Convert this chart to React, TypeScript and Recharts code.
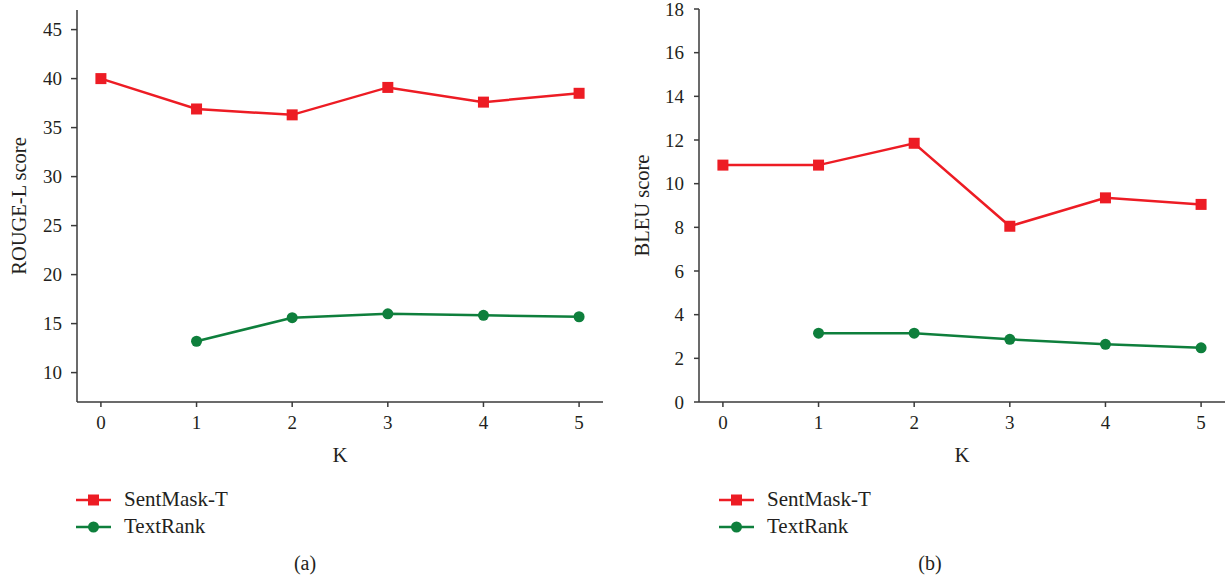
import React from 'react';
import { LineChart, Line, XAxis, YAxis, Legend } from 'recharts';

const kValues = [0, 1, 2, 3, 4, 5];
const rougeSentMask = [40.0, 36.9, 36.3, 39.1, 37.6, 38.5];
const rougeTextRank = [null, 13.2, 15.6, 16.0, 15.85, 15.7];
const bleuSentMask = [10.85, 10.85, 11.85, 8.05, 9.35, 9.05];
const bleuTextRank = [null, 3.15, 3.15, 2.87, 2.64, 2.48];
const rougeTicks = [10, 15, 20, 25, 30, 35, 40, 45];
const bleuTicks = [0, 2, 4, 6, 8, 10, 12, 14, 16, 18];
const seriesNames = ['SentMask-T', 'TextRank'];

const RED = '#ED1C24';
const GREEN = '#0E7F3C';
const AXIS = '#3a3a3a';
const TEXT = '#231F20';
const FONT = '"Liberation Serif", "DejaVu Serif", serif';

const rougeData = kValues.map((k, i) => ({ k, sent: rougeSentMask[i], text: rougeTextRank[i] }));
const bleuData = kValues.map((k, i) => ({ k, sent: bleuSentMask[i], text: bleuTextRank[i] }));

const SquareDot = (props: any) => {
  const { cx, cy, index } = props;
  if (cx == null || cy == null || props.value == null) return <g key={'s' + index} />;
  return <rect key={'s' + index} x={cx - 5.5} y={cy - 5.5} width={11} height={11} fill={RED} />;
};
const CircleDot = (props: any) => {
  const { cx, cy, index } = props;
  if (cx == null || cy == null || props.value == null) return <g key={'c' + index} />;
  return <circle key={'c' + index} cx={cx} cy={cy} r={5.5} fill={GREEN} />;
};

const XTick = (props: any) => {
  const { x, y, payload } = props;
  return (
    <text x={x} y={y} dy="0.71em" textAnchor="middle" fill={TEXT} fontSize={19} fontFamily={FONT}>
      {payload.value}
    </text>
  );
};
const YTick = (props: any) => {
  const { x, y, payload } = props;
  return (
    <text x={x} y={y} dy="0.355em" textAnchor="end" fill={TEXT} fontSize={19} fontFamily={FONT}>
      {payload.value}
    </text>
  );
};

const renderLegend = (props: any) => {
  const { payload } = props;
  return (
    <div style={{ fontFamily: FONT, color: TEXT }}>
      {(payload || []).map((p: any, i: number) => (
        <div key={i} style={{ display: 'flex', alignItems: 'center', height: 27 }}>
          <svg width={36} height={14} style={{ marginRight: 12 }}>
            <line x1={0} y1={7} x2={35} y2={7} stroke={p.color} strokeWidth={2.5} />
            {p.value === seriesNames[0] ? (
              <rect x={12} y={1.5} width={11} height={11} fill={p.color} />
            ) : (
              <circle cx={17.5} cy={7} r={5.5} fill={p.color} />
            )}
          </svg>
          <span style={{ fontSize: 21 }}>{p.value}</span>
        </div>
      ))}
    </div>
  );
};

type PanelProps = {
  data: any[];
  left: number;
  width: number;
  yDomain: [number, number];
  yTicks: number[];
  yLabel: string;
  yAxisWidth: number;
  yLabelOffset: number;
  marginRight: number;
  top: number;
  caption: string;
  captionX: number;
  legendLeft: number;
  yTickMargin: number;
  yTickSize: number;
};

const Panel = (p: PanelProps) => (
  <div style={{ position: 'absolute', left: p.left, top: 0, width: p.width, height: 581 }}>
    <LineChart
      width={p.width}
      height={581}
      data={p.data}
      margin={{ top: p.top, right: p.marginRight, left: 0, bottom: 119 }}
      style={{ fontFamily: FONT }}
    >
      <XAxis
        dataKey="k"
        type="number"
        domain={[-0.25, 5.25]}
        ticks={kValues}
        allowDataOverflow
        height={60}
        tickSize={5}
        tickMargin={9}
        stroke={AXIS}
        strokeWidth={1.5}
        tick={<XTick />}
        label={{ value: 'K', position: 'insideBottom', offset: 0, fill: TEXT, fontSize: 21, fontFamily: FONT }}
      />
      <XAxis xAxisId="top" orientation="top" type="number" domain={[-0.25, 5.25]} height={0} tick={false} tickLine={false} stroke={AXIS} strokeWidth={1.5} />
      <YAxis
        type="number"
        domain={p.yDomain}
        ticks={p.yTicks}
        allowDataOverflow
        width={p.yAxisWidth}
        tickSize={p.yTickSize}
        tickMargin={p.yTickMargin}
        stroke={AXIS}
        strokeWidth={1.5}
        tick={<YTick />}
        label={{ value: p.yLabel, angle: -90, position: 'insideLeft', offset: p.yLabelOffset, fill: TEXT, fontSize: 20.5, fontFamily: FONT, style: { textAnchor: 'middle' } }}
      />
      <YAxis yAxisId="right" orientation="right" type="number" domain={p.yDomain} width={0} tick={false} tickLine={false} stroke={AXIS} strokeWidth={1.5} />
      <Legend
        layout="horizontal"
        verticalAlign="middle"
        align="center"
        content={renderLegend}
        wrapperStyle={{ position: 'absolute', left: p.legendLeft, top: 486, width: 'auto', bottom: 'auto', margin: 0 }}
      />
      <Line
        dataKey="sent"
        name={seriesNames[0]}
        stroke={RED}
        strokeWidth={2.5}
        dot={SquareDot}
        activeDot={false}
        isAnimationActive={false}
      />
      <Line
        dataKey="text"
        name={seriesNames[1]}
        stroke={GREEN}
        strokeWidth={2.5}
        dot={CircleDot}
        activeDot={false}
        isAnimationActive={false}
      />
    </LineChart>
    <div
      style={{
        position: 'absolute',
        left: p.captionX - 50,
        width: 100,
        top: 552,
        textAlign: 'center',
        fontFamily: FONT,
        fontSize: 20,
        color: TEXT,
      }}
    >
      {p.caption}
    </div>
  </div>
);

export default function App() {
  return (
    <div style={{ position: 'absolute', left: 0, top: 0, width: 1226, height: 581, background: '#fff', overflow: 'hidden' }}>
      <Panel
        data={rougeData}
        left={0}
        width={620}
        yDomain={[7, 47]}
        yTicks={rougeTicks}
        yLabel="ROUGE-L score"
        yAxisWidth={77}
        yLabelOffset={19}
        marginRight={17}
        top={10}
        caption="(a)"
        captionX={305}
        legendLeft={76}
        yTickMargin={9}
        yTickSize={6}
      />
      <Panel
        data={bleuData}
        left={620}
        width={606}
        yDomain={[0, 18]}
        yTicks={bleuTicks}
        yLabel="BLEU score"
        yAxisWidth={79}
        yLabelOffset={22}
        marginRight={1}
        top={9}
        caption="(b)"
        captionX={310}
        legendLeft={99}
        yTickMargin={10}
        yTickSize={5}
      />
    </div>
  );
}
